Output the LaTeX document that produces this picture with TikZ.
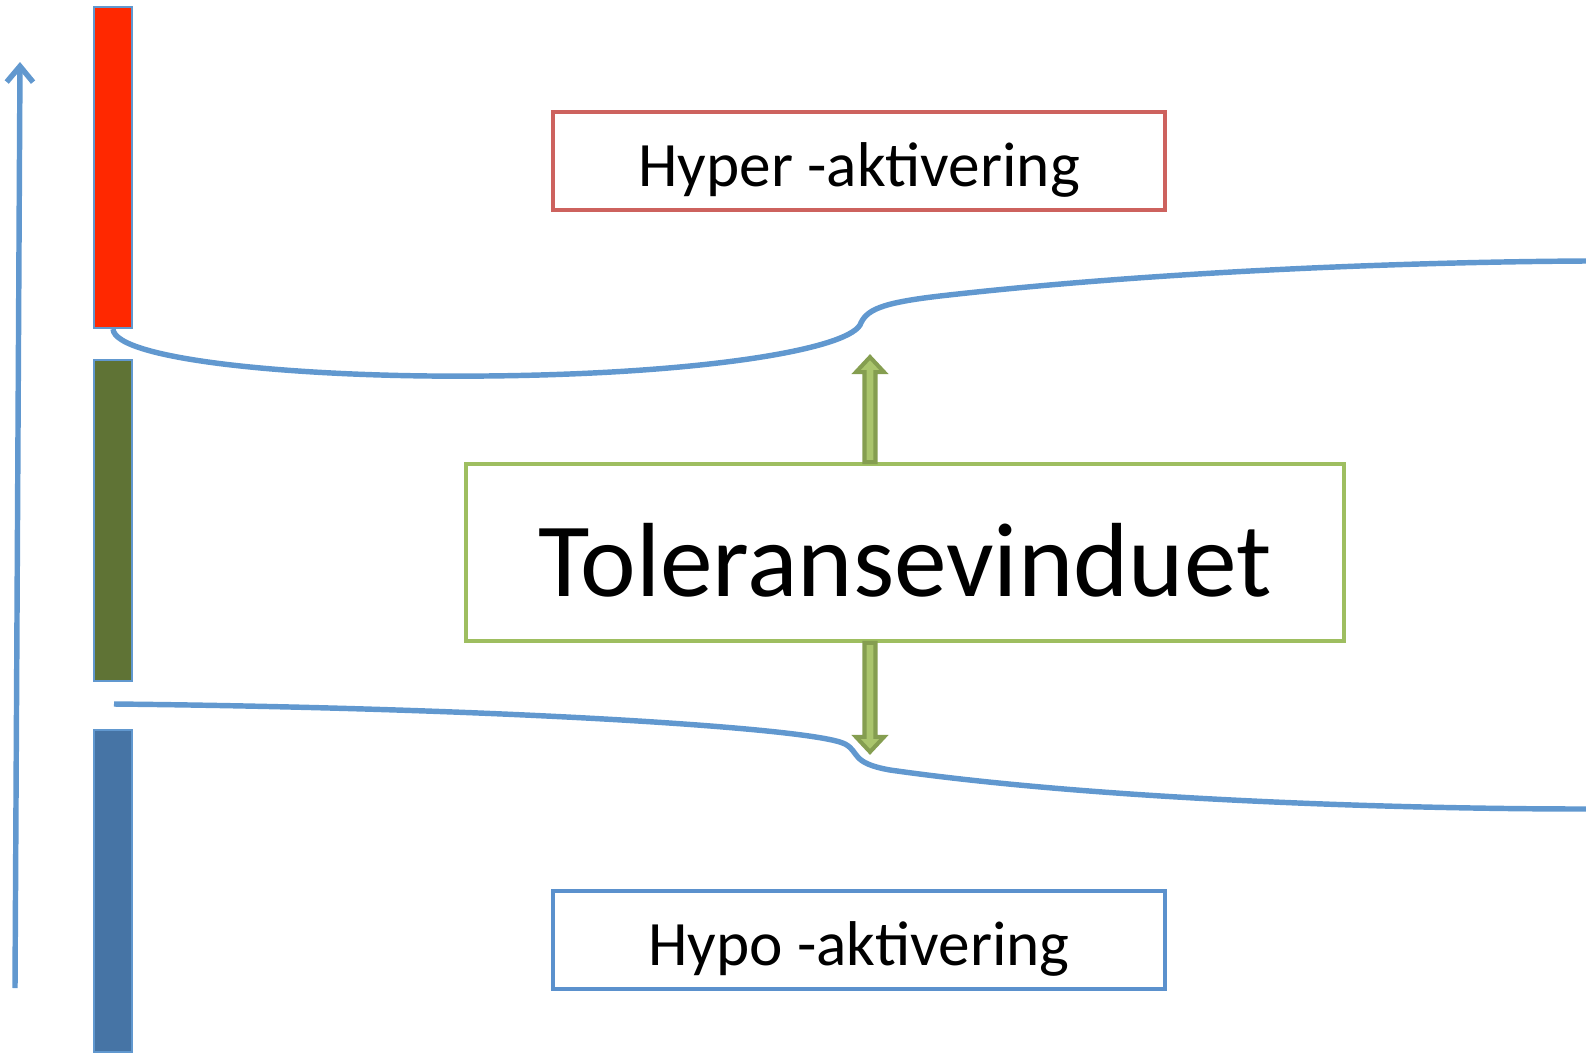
\documentclass[tikz,border=0pt]{standalone}
\usepackage{fontspec}
\setmainfont{Carlito}
\usetikzlibrary{arrows.meta}
\definecolor{levelblue}{RGB}{97,152,207}
\definecolor{barred}{RGB}{255,40,0}
\definecolor{bargreen}{RGB}{95,115,53}
\definecolor{barblue}{RGB}{70,116,165}
\definecolor{hyperred}{RGB}{205,98,94}
\definecolor{tolgreen}{RGB}{158,190,96}
\definecolor{hypoblue}{RGB}{91,145,205}
\definecolor{pushdark}{RGB}{133,158,80}
\definecolor{pushlight}{RGB}{170,197,108}
\tikzset{
  bar/.style={draw=levelblue, line width=1.2pt, minimum width=0.76cm, minimum height=6.42cm, inner sep=0pt},
  labelbox/.style={draw, line width=2.2pt, inner sep=0pt},
  smalltext/.style={font=\fontsize{36}{43}\selectfont, text height=32pt, text depth=3pt},
  bigtext/.style={font=\fontsize{60}{72}\selectfont, text height=54pt, text depth=4pt},
  level/.style={draw=levelblue, line width=3.1pt},
  push/.style={draw=pushdark, fill=pushlight, line width=2.3pt, line join=miter},
}
\begin{document}
\begin{tikzpicture}[x=0.02cm,y=-0.02cm]
  \useasboundingbox (0,0) rectangle (1586,1055);
  % bars
  \node[bar, fill=barred] (hyperbar) at (113,167.5) {};
  \node[bar, fill=bargreen] (tolbar) at (113,520.5) {};
  \node[bar, fill=barblue, minimum height=6.44cm] (hypobar) at (113,891) {};
  % axis
  \coordinate (axisfoot) at (15,988);
  \coordinate (axistop) at (20,62);
  \draw[level, -{Straight Barb[length=9pt, width=15pt]}] (axisfoot) -- (axistop);
  % boxes
  \node[labelbox, smalltext, draw=hyperred, minimum width=12.24cm, minimum height=1.96cm]
    (hyper) at (859,161) {Hyper -aktivering};
  \node[labelbox, bigtext, draw=tolgreen, minimum width=17.56cm, minimum height=3.54cm]
    (tol) at (905,552.5) {Toleransevinduet};
  \node[labelbox, smalltext, draw=hypoblue, minimum width=12.24cm, minimum height=1.96cm]
    (hypo) at (859,940) {Hypo -aktivering};
  % window limits
  \draw[level] (hyperbar.south) .. controls (115,360) and (300,378) .. (486,376)
    .. controls (700,374) and (845,350) .. (860,325)
    .. controls (866,310) and (880,303) .. (940,296)
    .. controls (1150,272) and (1400,262) .. (1586,261);
  \coordinate (lowstart) at (114,704);
  \draw[level] (lowstart) .. controls (500,708) and (815,728) .. (845,744)
    .. controls (860,752) and (850,763) .. (890,770)
    .. controls (1100,800) and (1400,809) .. (1586,809);
  % arrows out of the window
  \path (tol.north) ++(-35,0) coordinate (upfoot);
  \path (tol.south) ++(-35,0) coordinate (downfoot);
  \draw[push] (upfoot) ++(-5.5,0) -- ++(0,-90) -- ++(-8.5,0) -- ++(14,-15)
    -- ++(14,15) -- ++(-8.5,0) -- ++(0,90) -- cycle;
  \draw[push] (downfoot) ++(-5.5,0) -- ++(0,94) -- ++(-8.5,0) -- ++(14,15)
    -- ++(14,-15) -- ++(-8.5,0) -- ++(0,-94) -- cycle;
\end{tikzpicture}
\end{document}
